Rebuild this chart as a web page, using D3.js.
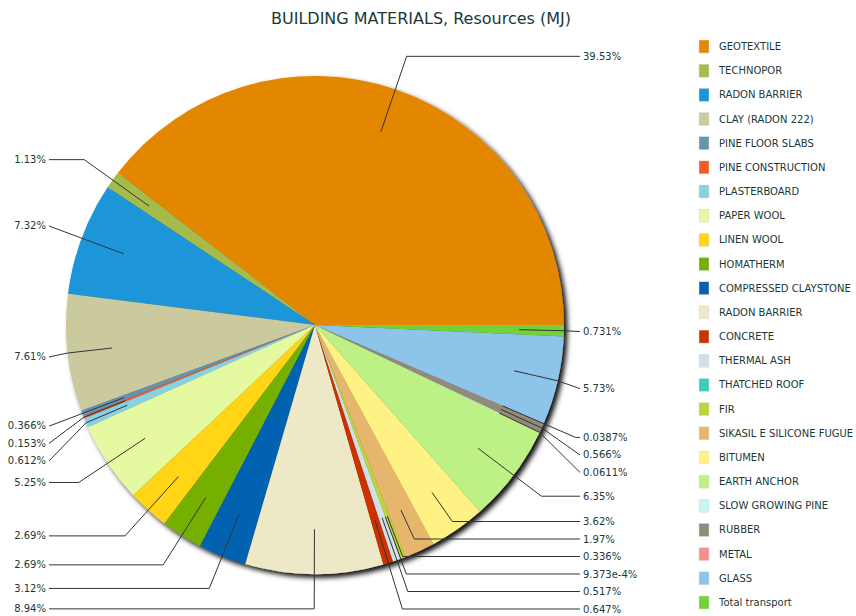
<!DOCTYPE html>
<html>
<head>
<meta charset="utf-8">
<script src="https://cdn.jsdelivr.net/npm/d3@7"></script>
<style>
  html, body { margin: 0; padding: 0; background: #fff; }
  svg { display: block; }
  text { font-family: "DejaVu Sans", Verdana, sans-serif; fill: #1b3838; }
</style>
</head>
<body>
<svg id="chart" width="856" height="616"></svg>
<script>
// Share of resources (MJ) per building material, in percent
const categories = [
  "GEOTEXTILE", "TECHNOPOR", "RADON BARRIER", "CLAY (RADON 222)", "PINE FLOOR SLABS",
  "PINE CONSTRUCTION", "PLASTERBOARD", "PAPER WOOL", "LINEN WOOL", "HOMATHERM",
  "COMPRESSED CLAYSTONE", "RADON BARRIER", "CONCRETE", "THERMAL ASH", "THATCHED ROOF",
  "FIR", "SIKASIL E SILICONE FUGUE", "BITUMEN", "EARTH ANCHOR", "SLOW GROWING PINE",
  "RUBBER", "METAL", "GLASS", "Total transport"
];
const shares = [
  39.53, 1.13, 7.32, 7.61, 0.366,
  0.153, 0.612, 5.25, 2.69, 2.69,
  3.12, 8.94, 0.647, 0.517, 0.0009373,
  0.336, 1.97, 3.62, 6.35, 0.0611,
  0.566, 0.0387, 5.73, 0.731
];
const colors = [
  "#E48701", "#A5BC4E", "#1B95D9", "#CACA9E", "#6693B0",
  "#F05E27", "#86D1E4", "#E4F9A0", "#FFD512", "#75B000",
  "#0662B0", "#EDE8C6", "#CC3300", "#D1DFE7", "#3ECDBB",
  "#BCD53A", "#E6B66C", "#FFF284", "#BDF186", "#C7F4EE",
  "#918B79", "#F2908C", "#8DC4EA", "#74D13A"
];
const title = "BUILDING MATERIALS, Resources (MJ)";

const data = categories.map((name, i) => ({ name, v: shares[i], color: colors[i], i }));

const svg = d3.select("#chart");

// pie geometry
const cx = 315, cy = 325, r = 249;
const innerR = r * 0.82;      // where leader lines start inside the slice
const labelR = r * 1.14;      // natural label radius
const rightX = 580, leftX = 49, textGap = 3;
const spacing = 17.5, bottomY = 609, topY = 10;

const fmt = v => (v < 0.001 ? v.toExponential() : String(v)) + "%";

// shadow behind the pie
const defs = svg.append("defs");
const f = defs.append("filter").attr("id", "pieShadow")
  .attr("x", "-10%").attr("y", "-10%").attr("width", "120%").attr("height", "120%");
f.append("feDropShadow").attr("dx", 3.5).attr("dy", 3.5).attr("stdDeviation", 2.4)
  .attr("flood-color", "#000").attr("flood-opacity", 0.95);

svg.append("text")
  .attr("x", 421).attr("y", 24)
  .attr("text-anchor", "middle")
  .style("font-size", "16px")
  .text(title);

// slices start at 3 o'clock and run counter-clockwise
const pie = d3.pie().sort(null).value(d => d.v)
  .startAngle(Math.PI / 2).endAngle(Math.PI / 2 - 2 * Math.PI);
const arcs = pie(data);
const arc = d3.arc().innerRadius(0).outerRadius(r);

const g = svg.append("g").attr("transform", `translate(${cx},${cy})`);
const pieG = g.append("g").attr("filter", "url(#pieShadow)");
pieG.selectAll("path").data(arcs).join("path")
  .attr("d", arc)
  .attr("fill", d => d.data.color);

// label layout
const pt = (R, a) => [cx + R * Math.sin(a), cy - R * Math.cos(a)];
const items = arcs.map(a => {
  const mid = (a.startAngle + a.endAngle) / 2;
  const right = Math.sin(mid) >= 0;
  return { a, mid, right, y0: pt(labelR, mid)[1] };
});

function layout(list) {
  list.sort((p, q) => p.y0 - q.y0);
  list.forEach((d, k) => {
    d.y = k === 0 ? Math.max(d.y0, topY) : Math.max(d.y0, list[k - 1].y + spacing);
  });
  for (let k = list.length - 1; k >= 0; k--) {
    const lim = k === list.length - 1 ? bottomY : list[k + 1].y - spacing;
    if (list[k].y > lim) list[k].y = lim;
  }
}
layout(items.filter(d => d.right));
layout(items.filter(d => !d.right));

const labelG = svg.append("g");
items.forEach(d => {
  const ax = d.right ? rightX : leftX;
  const p0 = pt(innerR, d.mid);
  const dy = -Math.cos(d.mid), dx = Math.sin(d.mid);
  let elbow = null;
  if (Math.abs(dy) > 1e-6) {
    const t = (d.y - p0[1]) / dy;
    const ex = p0[0] + t * dx;
    if (t >= 0 && (d.right ? ex <= ax : ex >= ax)) elbow = [ex, d.y];
  }
  if (!elbow) elbow = pt(r, d.mid);
  labelG.append("path")
    .attr("d", d3.line()([p0, elbow, [ax, d.y]]))
    .attr("fill", "none")
    .attr("stroke", "#333")
    .attr("stroke-width", 1);
  labelG.append("text")
    .attr("x", d.right ? ax + textGap : ax - textGap)
    .attr("y", d.y)
    .attr("dy", "0.35em")
    .attr("text-anchor", d.right ? "start" : "end")
    .style("font-size", "10px")
    .text(fmt(d.a.data.v));
});

// legend
const ly = d3.scalePoint().domain(d3.range(categories.length)).range([46.5, 602.5]);
const legend = svg.append("g");
const row = legend.selectAll("g").data(data).join("g")
  .attr("transform", d => `translate(699,${ly(d.i)})`);
row.append("rect")
  .attr("x", 0).attr("y", -6.5).attr("width", 10).attr("height", 13)
  .attr("fill", d => d.color)
  .attr("stroke", "#ddd").attr("stroke-width", 0.5);
row.append("text")
  .attr("x", 20).attr("y", 0).attr("dy", "0.35em")
  .style("font-size", "10px")
  .text(d => d.name);
</script>
</body>
</html>
